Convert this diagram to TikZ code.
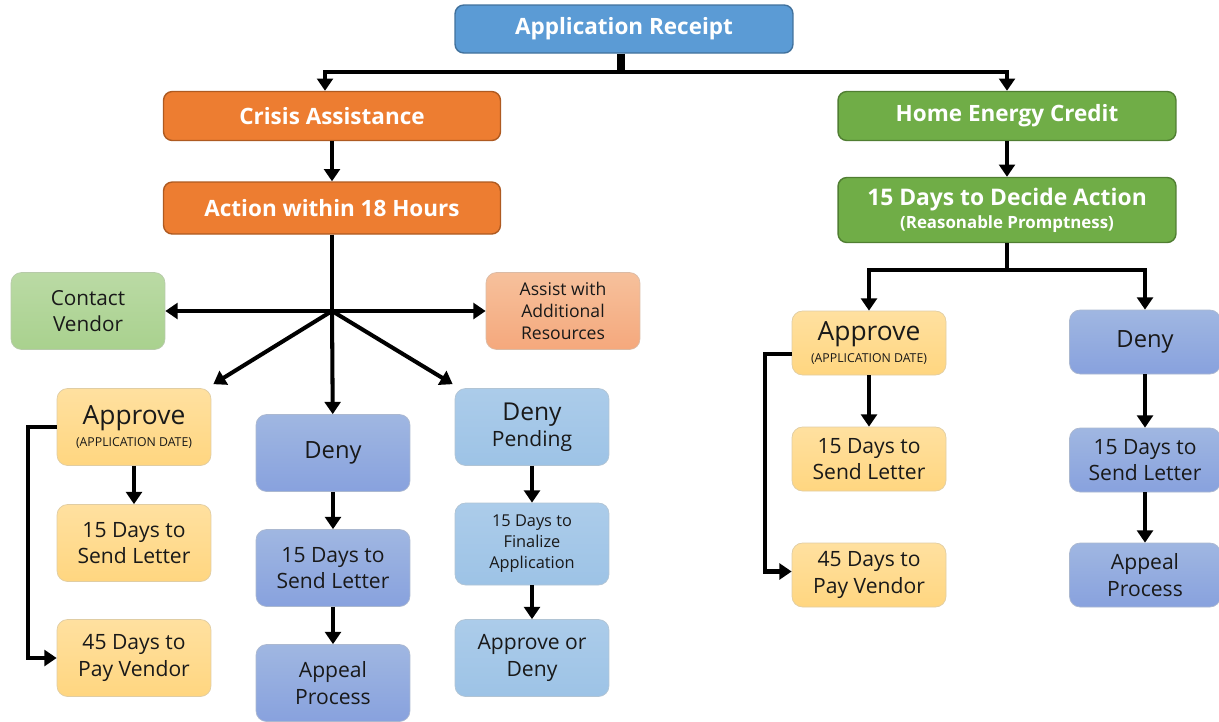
\documentclass[tikz,border=0pt]{standalone}
\usepackage{fontspec}
\setmainfont{Open Sans}
\usetikzlibrary{arrows.meta,positioning}

\definecolor{rcptblue}{HTML}{5B9BD5}
\definecolor{rcptedge}{HTML}{41719C}
\definecolor{crisisorange}{HTML}{ED7D31}
\definecolor{crisisedge}{HTML}{AE5A21}
\definecolor{creditgreen}{HTML}{70AD47}
\definecolor{creditedge}{HTML}{507E32}
\definecolor{vendorgreen}{HTML}{A9D18E}
\definecolor{assistsalmon}{HTML}{F4B183}
\definecolor{approveyellow}{HTML}{FFD680}
\definecolor{denyblue}{HTML}{8FAADC}
\definecolor{pendblue}{HTML}{9DC3E6}

\begin{document}
\begin{tikzpicture}[x=0.02cm,y=-0.02cm,
        link/.style={line width=2.3pt},
        arr/.style={line width=2.3pt,-{Triangle[length=7pt,width=9pt]}},
        headbox/.style={rounded corners=5pt,inner sep=0pt,align=center,text=white,
                        font=\fontsize{12.8}{15}\selectfont\bfseries,line width=0.8pt},
        softbox/.style={rounded corners=6pt,inner sep=0pt,align=center,text=black!90,
                        font=\fontsize{12}{15}\selectfont,minimum width=3.08cm,
                        minimum height=1.54cm,line width=0.4pt},
        smallbox/.style={softbox,minimum height=1.28cm},
        yellowbox/.style={top color=approveyellow!75,bottom color=approveyellow,
                          draw=approveyellow!80!black!60},
        denybox/.style={top color=denyblue!85,bottom color=denyblue!95!blue,
                        draw=denyblue!80!black!60},
        pendbox/.style={top color=pendblue!85,bottom color=pendblue,
                        draw=pendblue!80!black!60}]
        \useasboundingbox (0,0) rectangle (1219,721);

        % top and two programmes
        \node[headbox,fill=rcptblue,draw=rcptedge,minimum width=6.76cm,minimum height=0.96cm]
              (receipt) at (624,29) {Application Receipt};
        \node[headbox,fill=crisisorange,draw=crisisedge,minimum width=6.74cm,minimum height=0.98cm]
              (crisis) at (332,116) {Crisis Assistance};
        \node[headbox,fill=creditgreen,draw=creditedge,minimum width=6.76cm,minimum height=0.98cm]
              (credit) at (1007,116) {Home Energy Credit};
        \node[headbox,fill=crisisorange,draw=crisisedge,minimum width=6.74cm,minimum height=1.04cm]
              (action) at (332,208) {Action within 18 Hours};
        \node[headbox,fill=creditgreen,draw=creditedge,minimum width=6.76cm,minimum height=1.3cm]
              (decide) at (1007,210)
              {\fontsize{13}{15}\selectfont 15 Days to Decide Action\\[-2pt]
               {\fontsize{9.6}{11}\selectfont (Reasonable Promptness)}};

        % crisis branch
        \node[softbox,top color=vendorgreen!80,bottom color=vendorgreen,draw=vendorgreen!80!black!60,
              font=\fontsize{11.8}{15}\selectfont]
              (vendor) at (88,311) {Contact\\Vendor};
        \node[softbox,top color=assistsalmon!80,bottom color=assistsalmon!95!red,
              draw=assistsalmon!80!black!60,font=\fontsize{10}{12.5}\selectfont]
              (assist) at (563,311) {Assist with\\Additional\\Resources};
        \node[softbox,yellowbox] (approveL) at (134,427)
              {{\fontsize{15}{16}\selectfont Approve}\\[-2pt]{\fontsize{7}{8}\selectfont (APPLICATION DATE)}};
        \node[softbox,denybox] (denyL) at (333,453) {\fontsize{13.5}{15}\selectfont Deny};
        \node[softbox,pendbox] (pending) at (532,427) {\fontsize{14}{17}\selectfont Deny\\Pending};
        \node[softbox,yellowbox] (letterL) at (134,543) {15 Days to\\Send Letter};
        \node[softbox,denybox] (letterM) at (333,568) {15 Days to\\Send Letter};
        \node[softbox,pendbox,minimum height=1.64cm,font=\fontsize{9.3}{12}\selectfont]
              (finalize) at (532,544) {15 Days to\\Finalize\\Application};
        \node[softbox,yellowbox] (payL) at (134,658) {45 Days to\\Pay Vendor};
        \node[softbox,denybox] (appealM) at (333,683) {Appeal\\Process};
        \node[softbox,pendbox] (decision) at (532,658) {Approve or\\Deny};

        % credit branch
        \node[smallbox,yellowbox] (approveR) at (869,343)
              {{\fontsize{15}{16}\selectfont Approve}\\[-2pt]{\fontsize{7}{8}\selectfont (APPLICATION DATE)}};
        \node[smallbox,denybox,minimum width=3.02cm] (denyR) at (1145,342) {\fontsize{13.5}{15}\selectfont Deny};
        \node[smallbox,yellowbox] (letterR) at (869,459) {15 Days to\\Send Letter};
        \node[smallbox,yellowbox] (payR) at (869,575) {45 Days to\\Pay Vendor};
        \node[smallbox,denybox,minimum width=3.02cm] (letterD) at (1145,460) {15 Days to\\Send Letter};
        \node[smallbox,denybox,minimum width=3.02cm] (appealR) at (1145,575) {Appeal\\Process};

        \coordinate (split) at (621,72);
        \coordinate (hub) at (332,311);
        \coordinate (rsplit) at (1007,270);

        \draw[line width=4.5pt] (receipt.south -| split) -- (split);
        \draw[arr] (split) -| (crisis.north -| 325,0);
        \draw[arr] (split) -| (credit.north);
        \draw[arr] (crisis) -- (action);
        \draw[arr] (credit) -- (decide);

        \draw[link] (action) -- (hub);
        \draw[arr] (hub) -- (vendor);
        \draw[arr] (hub) -- (assist);
        \draw[arr] (hub) -- ([shift={(2,-4)}]approveL.north east);
        \draw[arr] (hub) -- (denyL);
        \draw[arr] (hub) -- ([shift={(-2,-4)}]pending.north west);

        \draw[arr] (approveL) -- (letterL);
        \draw[arr] (approveL.west) -- ++(-29,0) |- (payL.west);
        \draw[arr] (denyL) -- (letterM);
        \draw[arr] (letterM) -- (appealM);
        \draw[arr] (pending) -- (finalize);
        \draw[arr] (finalize) -- (decision);

        \draw[link] (decide) -- (rsplit);
        \draw[arr] (rsplit) -| (approveR);
        \draw[arr] (rsplit) -| (denyR);
        \draw[arr] ([yshift=-6]approveR.west) -- ++(-27,0) |- ([yshift=2]payR.west);
        \draw[arr] (approveR) -- (letterR);
        \draw[arr] (denyR) -- (letterD);
        \draw[arr] (letterD) -- (appealR);
    \end{tikzpicture}
\end{document}
